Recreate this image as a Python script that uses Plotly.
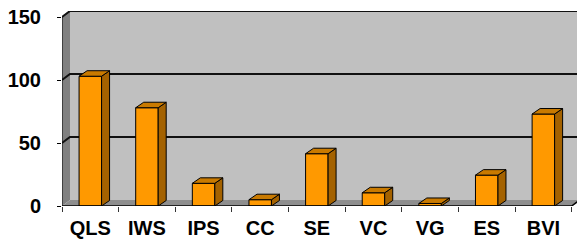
import plotly.graph_objects as go

# ---- data ----
categories = ["QLS", "IWS", "IPS", "CC", "SE", "VC", "VG", "ES", "BVI"]
values = [103, 78, 18, 5, 41.5, 10.5, 2, 24.5, 73]
y_ticks = [0, 50, 100, 150]

# ---- geometry ----
W, H = 577, 241
ML, MT, MB = 62, 11, 35
plot_w = W - ML
plot_h = H - MT - MB
cat_px = 56.63                 # pixels per category
px_per_unit = 189 / 150        # pixels per value unit
x_lo = -0.5
x_hi = x_lo + plot_w / cat_px
y_top = plot_h / px_per_unit
n = len(categories)

dxu = 8 / cat_px               # 3D depth in x (data units)
dyu_wall = 6 / px_per_unit     # 3D depth in y for walls
dyu_bar = 5.5 / px_per_unit    # 3D depth in y for bars
bar_w = 22.5 / cat_px

ymax = y_ticks[-1]
x_front_end = n - 0.5

shapes = []
# back wall
shapes.append(dict(type="rect", xref="x", yref="y", layer="below",
                   x0=x_lo + dxu, x1=x_hi + 1, y0=dyu_wall, y1=ymax + dyu_wall,
                   fillcolor="#c0c0c0", line=dict(width=0)))
# side wall
shapes.append(dict(type="path", xref="x", yref="y", layer="below",
                   path=f"M {x_lo},0 L {x_lo},{ymax} L {x_lo+dxu},{ymax+dyu_wall} L {x_lo+dxu},{dyu_wall} Z",
                   fillcolor="#808080", line=dict(width=0)))
# floor
shapes.append(dict(type="path", xref="x", yref="y", layer="below",
                   path=f"M {x_lo},0 L {x_front_end},0 L {x_front_end+dxu},{dyu_wall} L {x_lo+dxu},{dyu_wall} Z",
                   fillcolor="#8e8e8e", line=dict(width=0)))
# gridlines along side and back wall
for v in y_ticks[1:]:
    shapes.append(dict(type="path", xref="x", yref="y", layer="below",
                       path=f"M {x_lo},{v} L {x_lo+dxu},{v+dyu_wall} L {x_hi+1},{v+dyu_wall}",
                       line=dict(color="#111111", width=2)))
# front axis lines
shapes.append(dict(type="line", xref="x", yref="y", layer="above",
                   x0=x_lo, x1=x_lo, y0=0, y1=ymax, line=dict(color="black", width=1)))
shapes.append(dict(type="path", xref="x", yref="y", layer="above",
                   path=f"M {x_lo},0 L {x_front_end},0 L {x_front_end+dxu},{dyu_wall}",
                   line=dict(color="black", width=1.5)))

# ---- bar 3D faces computed from values ----
top_x, top_y, side_x, side_y = [], [], [], []
for i, v in enumerate(values):
    l, r = i - bar_w / 2, i + bar_w / 2
    top_x += [l, r, r + dxu, l + dxu, l, None]
    top_y += [v, v, v + dyu_bar, v + dyu_bar, v, None]
    side_x += [r, r, r + dxu, r + dxu, r, None]
    side_y += [0, v, v + dyu_bar, dyu_bar, 0, None]

fig = go.Figure()
fig.add_trace(go.Bar(x=list(range(n)), y=values, width=bar_w,
                     marker=dict(color="#ff9900", line=dict(color="black", width=1)),
                     hoverinfo="skip"))
fig.add_trace(go.Scatter(x=side_x, y=side_y, mode="lines", fill="toself",
                         fillcolor="#a46200", line=dict(color="black", width=1),
                         hoverinfo="skip"))
fig.add_trace(go.Scatter(x=top_x, y=top_y, mode="lines", fill="toself",
                         fillcolor="#c97a00", line=dict(color="black", width=1),
                         hoverinfo="skip"))

font = dict(family="Liberation Sans, Arial, sans-serif", size=20, color="black", weight=700)

fig.update_layout(
    width=W, height=H,
    margin=dict(l=ML, r=0, t=MT, b=MB, pad=0),
    paper_bgcolor="white", plot_bgcolor="white",
    showlegend=False,
    shapes=shapes,
    xaxis=dict(range=[x_lo, x_hi], tickmode="array", tickvals=list(range(n)),
               ticktext=categories, ticks="", showgrid=False, zeroline=False,
               showline=False, tickfont=font, ticklabelstandoff=8,
               minor=dict(tickmode="array", tickvals=[i - 0.5 for i in range(n + 1)],
                          ticks="outside", ticklen=5, tickcolor="#333333", tickwidth=1,
                          showgrid=False)),
    yaxis=dict(range=[0, y_top], tickmode="array", tickvals=y_ticks,
               ticks="outside", ticklen=4, tickcolor="black", tickwidth=1,
               showgrid=False, zeroline=False, showline=False,
               tickfont=font, ticklabelstandoff=12),
)

fig.write_html("out.html", config={"displayModeBar": False},
               post_script="document.body.style.margin='0';document.body.style.overflow='hidden';")
